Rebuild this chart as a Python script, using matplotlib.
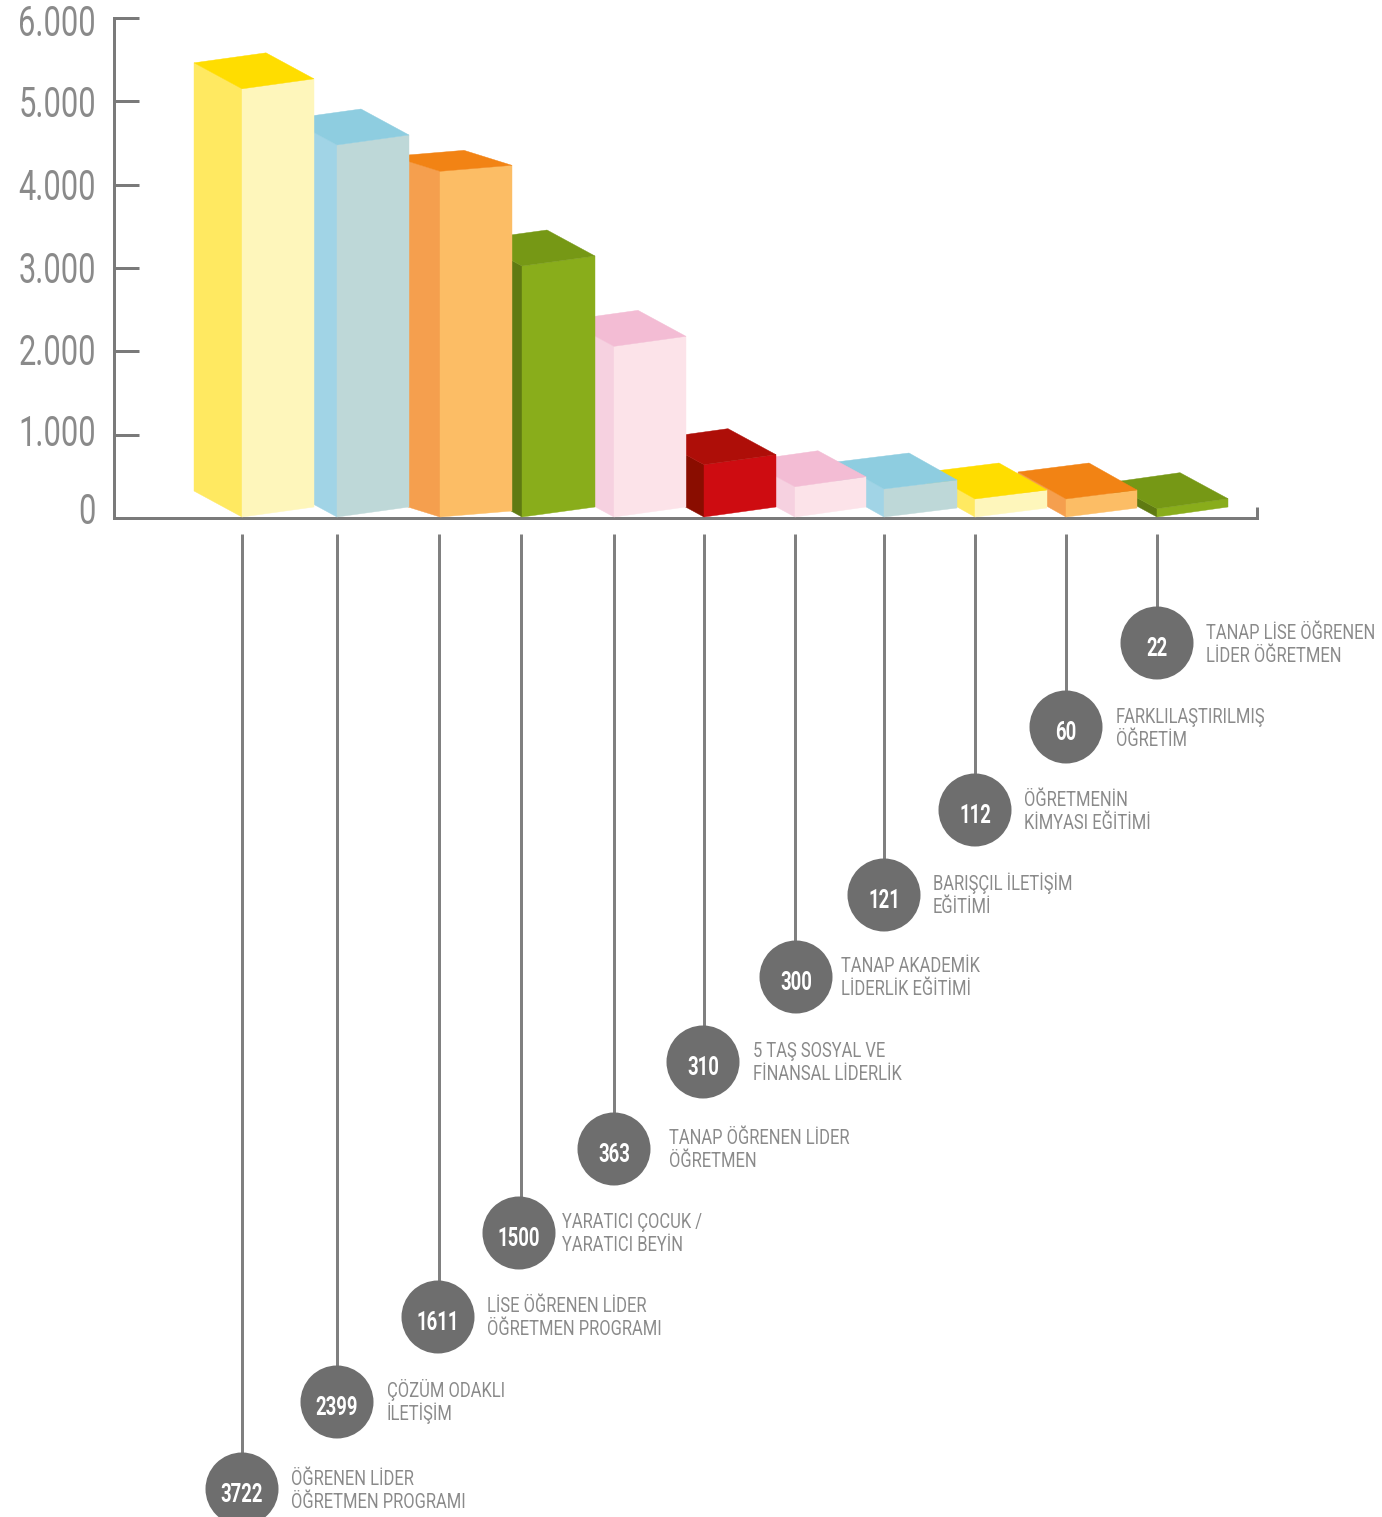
import matplotlib
matplotlib.use('Agg')
import matplotlib.pyplot as plt
from matplotlib.font_manager import FontProperties, findfont
from matplotlib.patches import Polygon, Circle
from matplotlib.transforms import ScaledTranslation
from fontTools.ttLib import TTFont

W, H = 1382, 1517
DPI = 100

# data
values = [3722, 2399, 1611, 1500, 363, 310, 300, 121, 112, 60, 22]
names = ["ÖĞRENEN LİDER\nÖĞRETMEN PROGRAMI", "ÇÖZÜM ODAKLI\nİLETİŞİM", "LİSE ÖĞRENEN LİDER\nÖĞRETMEN PROGRAMI",
         "YARATICI ÇOCUK /\nYARATICI BEYİN", "TANAP ÖĞRENEN LİDER\nÖĞRETMEN", "5 TAŞ SOSYAL VE\nFİNANSAL LİDERLİK",
         "TANAP AKADEMİK\nLİDERLİK EĞİTİMİ", "BARIŞÇIL İLETİŞİM\nEĞİTİMİ", "ÖĞRETMENİN\nKİMYASI EĞİTİMİ",
         "FARKLILAŞTIRILMIŞ\nÖĞRETİM", "TANAP LİSE ÖĞRENEN\nLİDER ÖĞRETMEN"]
# drawn height of each bar on the 0-6000 axis (front corner)
bar_heights = [5150, 4476, 4160, 3024, 2060, 640, 375, 348, 228, 228, 112]
y_ticks = [0, 1000, 2000, 3000, 4000, 5000, 6000]
y_tick_labels = ['0', '1.000', '2.000', '3.000', '4.000', '5.000', '6.000']

# layout, pixels
front_x = [242, 337, 440, 522, 614, 704, 795, 884, 975, 1066, 1157]
right_x = [314, 409, 512, 595, 686, 776, 866, 957, 1047, 1137, 1228]
right_rise = [10, 10, 6, 10, 10, 10, 10, 9, 9, 9, 10]
depth_rise = [26, 26, 15, 26, 26, 26, 26, 27, 27, 27, 26]
DEPTH_DX = 48
circle_x = [242, 337, 438, 519, 614, 703, 796, 884, 975, 1066, 1157]
circle_y = [1489, 1402, 1317, 1233, 1149, 1062, 977, 895, 810, 727, 643]
text_x = [291, 387, 487, 562, 669, 753, 841, 933, 1024, 1116, 1206]
text_y = [1490, 1402, 1317, 1233, 1149, 1062, 977, 895, 811, 728, 644]
label_shift = [10, 5, 2, 1, 1, 0, -2]  # tick labels sit a bit off their ticks

yellow = ('#FFE961', '#FEF6BB', '#FFDD00')
blue = ('#A1D4E6', '#BED8D8', '#8ECDE0')
orange = ('#F59F4E', '#FCBD65', '#F28314')
green = ('#5F7A12', '#89AD1B', '#769815')
pink = ('#F6D1E0', '#FCE3E9', '#F3BCD4')
red = ('#8A0D00', '#CE0C11', '#AE0E08')
bar_colors = [yellow, blue, orange, green, pink, red, pink, blue, yellow, orange, green]

AXIS = '#7a7a7a'
px = 72 / DPI


def narrow_font(weight, sx, out):
    # no condensed family is installed, so squeeze a copy of Roboto
    path = findfont(FontProperties(family='Roboto', weight=weight))
    f = TTFont(path)
    for tag in ['fpgm', 'prep', 'cvt ', 'hdmx', 'VDMX', 'LTSH', 'kern', 'gvar', 'fvar', 'HVAR', 'MVAR', 'STAT', 'avar']:
        if tag in f:
            del f[tag]
    glyf = f['glyf']
    for name in glyf.keys():
        g = glyf[name]
        g.expand(glyf)
        if g.isComposite():
            for c in g.components:
                c.x = round(c.x * sx)
        elif g.numberOfContours > 0:
            g.coordinates.scale((sx, 1))
            g.coordinates.toInt()
        g.removeHinting()
        g.recalcBounds(glyf)
    hmtx = f['hmtx']
    for name, (adv, lsb) in hmtx.metrics.items():
        hmtx.metrics[name] = (round(adv * sx), round(lsb * sx))
    f.save(out)
    return out


tick_font = narrow_font('normal', 0.74, 'narrow_tick.ttf')
label_font = narrow_font('normal', 0.82, 'narrow_label.ttf')
value_font = narrow_font('bold', 0.72, 'narrow_bold.ttf')

fig = plt.figure(figsize=(W / DPI, H / DPI), dpi=DPI)

# chart part: y is the real 0-6000 scale, x stays in pixels
ax = fig.add_axes([114 / W, (H - 518) / H, (1257 - 114) / W, 500 / H])
ax.set_xlim(114, 1257)
ax.set_ylim(0, 6000)
ax.patch.set_alpha(0)
unit = 6000 / 500  # axis units per pixel

for s in ['top', 'right']:
    ax.spines[s].set_visible(False)
for s in ['left', 'bottom']:
    ax.spines[s].set_color(AXIS)
    ax.spines[s].set_linewidth(3 * px)
ax.set_xticks([])
ax.set_yticks(y_ticks)
ax.set_yticklabels(y_tick_labels, fontproperties=FontProperties(fname=tick_font, size=30), color='#8a8a8a')
ax.tick_params(axis='y', direction='in', length=25 * px, width=3 * px, color=AXIS, pad=0)
for lab, shift in zip(ax.get_yticklabels(), label_shift):
    lab.set_transform(lab.get_transform() + ScaledTranslation(-18 * px / 72, shift * px / 72, fig.dpi_scale_trans))
ax.plot([1257, 1257], [0, 11 * unit], color=AXIS, lw=3 * px, clip_on=False, solid_capstyle='butt')

# right to left, each bar covers the back of the next one
base = 1 * unit
for i in range(len(values) - 1, -1, -1):
    fx, rx = front_x[i], right_x[i]
    lx = fx - DEPTH_DX
    h = bar_heights[i]
    rr = right_rise[i] * unit
    dr = depth_rise[i] * unit
    side, front, top = bar_colors[i]
    ax.add_patch(Polygon([(lx, base + dr), (fx, base), (fx, h), (lx, h + dr)], fc=side, ec=side, lw=0.3, zorder=3 + (11 - i)))
    ax.add_patch(Polygon([(fx, base), (rx, base + rr), (rx, h + rr), (fx, h)], fc=front, ec=front, lw=0.3, zorder=3 + (11 - i)))
    ax.add_patch(Polygon([(lx, h + dr), (fx, h), (rx, h + rr), (rx - DEPTH_DX, h + rr + dr)], fc=top, ec=top, lw=0.3, zorder=3 + (11 - i)))

# lower part in plain pixels
low = fig.add_axes([0, 0, 1, 1])
low.set_xlim(0, W)
low.set_ylim(H, 0)
low.axis('off')
low.patch.set_alpha(0)

for i in range(len(values)):
    low.plot([front_x[i] - (1 if i == 2 or i == 3 else 0)] * 2, [534, circle_y[i]], color='#808080', lw=3 * px, solid_capstyle='butt', zorder=1)
    low.add_patch(Circle((circle_x[i], circle_y[i]), 36.5, fc='#6e6e6e', ec='none', zorder=2))
    low.text(circle_x[i], circle_y[i] + 6, str(values[i]), color='white', fontproperties=FontProperties(fname=value_font, size=18.5),
             ha='center', va='center', zorder=3)
    first, second = names[i].split('\n')
    for line, dy in ((first, -5), (second, 18)):
        low.text(text_x[i], text_y[i] + dy, line, color='#8a8a8a', fontproperties=FontProperties(fname=label_font, size=14.5),
                 ha='left', va='baseline', zorder=3)

fig.savefig('out.png', dpi=DPI, facecolor='white')
